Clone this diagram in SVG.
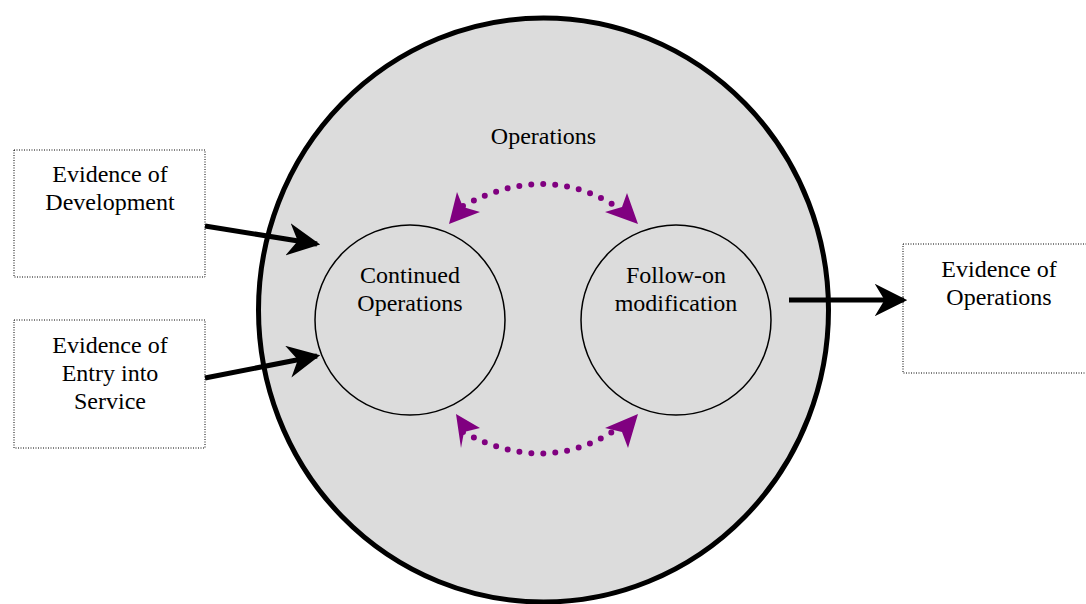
<svg xmlns="http://www.w3.org/2000/svg" width="1086" height="604" viewBox="0 0 1086 604">
<style>
text{font-family:'Liberation Serif','Times New Roman','DejaVu Serif',serif;font-size:24px;fill:#000;text-anchor:middle}
.box{fill:#fff;stroke:#000;stroke-width:1;stroke-dasharray:1 1.5}
.inner{fill:none;stroke:#000;stroke-width:1.5}
.blk{fill:none;stroke:#000;stroke-width:5}
.pur{fill:none;stroke:#800080;stroke-width:6;stroke-linecap:round;stroke-dasharray:0 12}
</style>
<defs>
<marker id="ab" viewBox="0 0 10 10" refX="9" refY="5" markerWidth="6.5" markerHeight="6.5" markerUnits="strokeWidth" orient="auto">
<path d="M0,0 L10,5 L0,10 L3,5 Z" fill="#000"/>
</marker>
</defs>
<g id="operations">
<ellipse cx="543.5" cy="310" rx="285" ry="292" fill="#dcdcdc" stroke="#000" stroke-width="5"/>
<text x="543.5" y="144">Operations</text>
</g>
<g id="continued">
<circle cx="410" cy="320" r="95" class="inner"/>
<text x="410" y="283">Continued</text>
<text x="410" y="311">Operations</text>
</g>
<g id="followon">
<circle cx="676" cy="320" r="95" class="inner"/>
<text x="676" y="283">Follow-on</text>
<text x="676" y="311">modification</text>
</g>
<g id="evdev">
<rect x="14" y="150" width="191" height="127" class="box"/>
<text x="110" y="182">Evidence of</text>
<text x="110" y="210">Development</text>
</g>
<g id="eveis">
<rect x="14" y="320" width="191" height="128" class="box"/>
<text x="110" y="353">Evidence of</text>
<text x="110" y="381">Entry into</text>
<text x="110" y="409">Service</text>
</g>
<g id="evops">
<rect x="903" y="244" width="190" height="129" class="box"/>
<text x="999" y="277">Evidence of</text>
<text x="999" y="305">Operations</text>
</g>
<g id="connectors">
<path d="M205,226 L317,244" class="blk" marker-end="url(#ab)"/>
<path d="M205,378 L317,356" class="blk" marker-end="url(#ab)"/>
<path d="M789,300 L904,300" class="blk" marker-end="url(#ab)"/>
<path d="M463,206 Q543,163 612,204" class="pur"/>
<path d="M463,432 Q543,475 612,432" class="pur"/>
<g fill="#800080">
<path d="M449,224 L457,192 L463,207 L480,212 Z"/>
<path d="M638,224 L627,193 L622,207 L605,212 Z"/>
<path d="M456,414 L461,448 L464,432 L480,428 Z"/>
<path d="M638,414 L628,448 L622,432 L605,428 Z"/>
</g>
</g>
</svg>
